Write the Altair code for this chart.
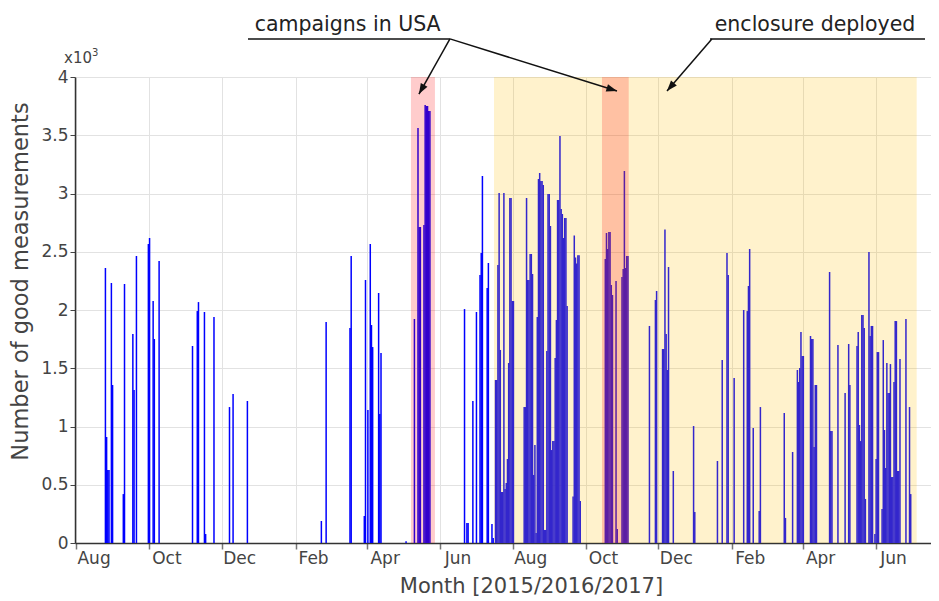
import math
import altair as alt
import pandas as pd

# ---------------- data ----------------
START = "2015-08-01"
X_DOMAIN = ["2015-07-31T00:00:00", "2017-07-17T12:00:00"]
Y_MAX = 4000

# day offsets since 2015-08-01 and daily counts of good measurements
day_offset = [
    24, 25, 26, 27, 29, 30, 39, 40, 47, 48, 50, 60, 61, 64, 65, 69,
    97, 101, 102, 107, 108, 115, 128, 131, 143,
    205, 209, 229, 230, 241, 242, 244, 246, 247, 248, 253, 254, 255, 276,
    283, 286, 287, 288, 291, 292, 293, 294, 295, 296,
    325, 327, 328, 332, 335, 338, 339, 340, 344, 345, 348, 349,
    351, 352, 353, 354, 355, 356, 357, 358, 359, 360, 361, 362, 363, 364, 365, 366,
    375, 376, 377, 378, 379, 380, 381, 382, 383, 384, 385, 386, 387, 388, 389, 390,
    391, 392, 393, 394, 395, 396, 397, 398, 399, 400, 401, 402, 403, 404, 405, 406,
    407, 408, 409, 410, 411,
    416, 417, 418, 419, 420, 421, 422,
    443, 444, 445, 446, 447, 448, 449, 452, 453, 457, 458, 459, 460, 461, 462,
    480, 485, 486, 491, 492, 493, 494, 495, 496, 500, 517, 518,
    537, 541, 545, 546, 551, 559, 562, 563, 564, 567, 572, 573,
    593, 594, 600, 604, 605, 606, 607, 608, 609, 615, 616, 617, 618, 619, 620,
    631, 632, 633, 638, 644, 647, 648,
    654, 655, 656, 657, 658, 659, 660, 661, 664, 665, 666, 667, 669, 670, 671, 672,
    675, 676, 677, 678, 679, 680, 681, 682, 683, 684, 685, 686, 687, 688, 689, 690,
    695, 698, 699,
]
good_count = [
    2360, 910, 627, 627, 2232, 1356, 420, 2223, 1794, 1313, 2463, 2566, 2618, 2077, 1751, 2420,
    1691, 1991, 2068, 1983, 77, 1940, 1167, 1279, 1219,
    189, 1897, 1845, 2463, 232, 2257, 1142, 2566, 1871, 1682, 2146, 1107, 1631, 15,
    1923, 3562, 2712, 2712, 2729, 3759, 3751, 3751, 3708, 3708,
    2008, 172, 172, 1219, 1983, 2300, 2489, 3150, 2189, 2403, 163, 43,
    1399, 1399, 2386, 3004, 1657, 438, 438, 3004, 463, 515, 721, 1545, 2961, 2961, 2077, 2077,
    1167, 1167, 2961, 2257, 2257, 2481, 2481, 2309, 584, 841, 86, 1940, 3124, 3176, 3107, 3107,
    3073, 112, 112, 1648, 2995, 2995, 2721, 798, 875, 875, 1588, 1914, 2944, 2944, 3493, 2867,
    2824, 2618, 2790, 2790, 2034,
    400, 2640, 2450, 2400, 2470, 2470, 360,
    2438, 2661, 2523, 2669, 2669, 2214, 2129, 2249, 120, 2283, 2352, 3193, 2360, 2463, 2463,
    1863, 2086, 2163, 1665, 1665, 2692, 1794, 1485, 2369, 618, 1004, 266,
    704, 1571, 2489, 2300, 1416, 2000, 1991, 2206, 2523, 987, 275, 1167,
    1116, 215, 781, 1485, 1382, 1502, 1811, 1605, 1605, 1777, 1751, 1751, 824, 1356, 1356,
    2326, 961, 961, 1699, 1287, 1708, 1356,
    1691, 1811, 1013, 875, 1957, 1957, 1845, 378, 2498, 1777, 1863, 1863, 77, 721, 1639, 1639,
    292, 1742, 970, 644, 1545, 1287, 1287, 1536, 566, 566, 1382, 1905, 1905, 618, 618, 1579,
    1923, 1167, 420,
]

# shaded periods (drawn over the bars, semi-transparent)
shade_name = ["campaign USA 1", "enclosure deployed", "campaign USA 2"]
shade_start = ["2016-05-07T14:00:00", "2016-07-16T05:00:00", "2016-10-14T17:00:00"]
shade_end = ["2016-05-27T17:00:00", "2017-07-05T12:00:00", "2016-11-06T03:00:00"]
shade_color = ["#FF0000", "#FFBF00", "#FF0000"]

# x axis: ticks at month starts, labels mid-month every second month
tick_months = pd.date_range("2015-08-01", "2017-07-01", freq="MS")
label_dates = ["2015-08-16", "2015-10-16", "2015-12-16", "2016-02-16", "2016-04-16",
               "2016-06-16", "2016-08-16", "2016-10-16", "2016-12-16", "2017-02-16",
               "2017-04-16", "2017-06-16"]
label_text = ["Aug", "Oct", "Dec", "Feb", "Apr", "Jun", "Aug", "Oct", "Dec", "Feb", "Apr", "Jun"]

# annotations (data coordinates)
note_text = ["campaigns in USA", "enclosure deployed"]
note_x = ["2016-03-15T12:00:00", "2017-04-11T07:00:00"]
note_y = [4392, 4392]
line_x = ["2015-12-23T00:00:00", "2017-01-13T07:00:00"]
line_x2 = ["2016-06-09T07:00:00", "2017-07-12T12:00:00"]
line_y = [4327, 4327]
arrow_tail_x = ["2016-06-09T07:00:00", "2016-06-09T07:00:00", "2017-01-14T20:00:00"]
arrow_tail_y = [4327, 4327, 4327]
arrow_tip_x = ["2016-05-14T07:00:00", "2016-10-27T07:00:00", "2016-12-08T05:00:00"]
arrow_tip_y = [3854, 3880, 3880]

# ---------------- layout ----------------
W, H = 856, 466
FONT = "DejaVu Sans"
TXT = "#444444"

start = pd.Timestamp(START)
bars = pd.DataFrame({"day": day_offset, "count": good_count})
bars["date"] = (start + pd.to_timedelta(bars["day"], unit="D") + pd.Timedelta(hours=12)).dt.strftime("%Y-%m-%dT%H:%M:%S")

shades = pd.DataFrame({"name": shade_name, "s": shade_start, "e": shade_end, "col": shade_color})
notes = pd.DataFrame({"t": note_text, "x": note_x, "y": note_y})
ulines = pd.DataFrame({"x": line_x, "x2": line_x2, "y": line_y})
xlabels = pd.DataFrame({"d": [s + "T00:00:00" for s in label_dates], "t": label_text})

d0 = pd.Timestamp(X_DOMAIN[0])
span_days = (pd.Timestamp(X_DOMAIN[1]) - d0) / pd.Timedelta(days=1)
px_day = W / span_days
px_unit = H / Y_MAX
angles = []
for tx, ty, hx, hy in zip(arrow_tail_x, arrow_tail_y, arrow_tip_x, arrow_tip_y):
    dx = (pd.Timestamp(hx) - pd.Timestamp(tx)) / pd.Timedelta(days=1) * px_day
    dy = -(hy - ty) * px_unit
    angles.append(math.degrees(math.atan2(dx, -dy)) % 360)
arrows = pd.DataFrame({"tx": arrow_tail_x, "ty": arrow_tail_y, "hx": arrow_tip_x,
                       "hy": arrow_tip_y, "ang": angles})

x_values = [alt.DateTime(year=d.year, month=d.month, date=1) for d in tick_months]

x_scale = alt.Scale(domain=[alt.DateTime(year=2015, month=7, date=31),
                            alt.DateTime(year=2017, month=7, date=17, hours=12)],
                    padding=0, nice=False)
y_scale = alt.Scale(domain=[0, Y_MAX], nice=False, padding=0)

x_axis = alt.Axis(
    values=x_values, labels=False,
    tickSize=6, tickColor="#777777", tickWidth=1.5,
    title="Month [2015/2016/2017]", titleFont=FONT, titleFontSize=21,
    titleFontWeight="normal", titleColor=TXT, titlePadding=26, titleX=456,
    gridColor="#E2E2E2", domainColor="#333333", domainWidth=1.5,
)
y_axis = alt.Axis(
    values=list(range(0, Y_MAX + 1, 500)),
    labelExpr="'' + datum.value / 1000",
    tickSize=5, tickColor="#444444", labelPadding=2,
    labelFont=FONT, labelFontSize=17, labelColor=TXT,
    title="Number of good measurements", titleFont=FONT, titleFontSize=22.5,
    titleFontWeight="normal", titleColor=TXT,
    titleX=-48, titleY=204, titleAngle=270, titleAlign="center", titleBaseline="alphabetic",
    gridColor="#E2E2E2", domainColor="#333333", domainWidth=1.5,
)

bar_layer = alt.Chart(bars).mark_bar(size=1.5, color="#0000FF").encode(
    x=alt.X("date:T", scale=x_scale, axis=x_axis),
    y=alt.Y("count:Q", scale=y_scale, axis=y_axis),
)

shade_layer = alt.Chart(shades).mark_rect(opacity=0.2).encode(
    x="s:T",
    x2="e:T",
    y=alt.datum(0),
    y2=alt.datum(Y_MAX),
    color=alt.Color("col:N", scale=None),
)

xlabel_layer = alt.Chart(xlabels).mark_text(
    font=FONT, fontSize=17, color=TXT, align="center", baseline="alphabetic",
).encode(x="d:T", y=alt.value(H + 21), text="t:N")

underline_layer = alt.Chart(ulines).mark_rule(color="#111111", strokeWidth=1.5).encode(
    x="x:T", x2="x2:T", y="y:Q",
)

arrow_line_layer = alt.Chart(arrows).mark_rule(color="#111111", strokeWidth=1.5).encode(
    x="tx:T", x2="hx:T", y="ty:Q", y2="hy:Q",
)

arrow_head_layer = alt.Chart(arrows).mark_point(
    shape="M0,0L-0.36,1L0.36,1Z", filled=True, color="#111111", opacity=1, size=450,
).encode(
    x="hx:T", y="hy:Q",
    angle=alt.Angle("ang:Q", scale=None),
)

note_layer = alt.Chart(notes).mark_text(
    font=FONT, fontSize=20.5, color="#222222", align="center", baseline="alphabetic",
).encode(x="x:T", y="y:Q", text="t:N")

mult = pd.DataFrame({"t": ["x10"], "s": ["3"]})
mult_layer = alt.Chart(mult).mark_text(
    font=FONT, fontSize=15, color=TXT, align="left", baseline="alphabetic",
).encode(x=alt.value(-11), y=alt.value(-14), text="t:N")
sup_layer = alt.Chart(mult).mark_text(
    font=FONT, fontSize=10, color=TXT, align="left", baseline="alphabetic",
).encode(x=alt.value(17), y=alt.value(-21), text="s:N")

chart = alt.layer(
    bar_layer, shade_layer, xlabel_layer, underline_layer, arrow_line_layer,
    arrow_head_layer, note_layer, mult_layer, sup_layer,
).properties(
    width=W, height=H,
    autosize=alt.AutoSizeParams(type="none"),
    padding={"left": 67, "top": 69, "right": 0, "bottom": 62},
    background="white",
).configure_view(stroke=None)

chart.save("out.html", embed_options={"renderer": "svg", "actions": False})
